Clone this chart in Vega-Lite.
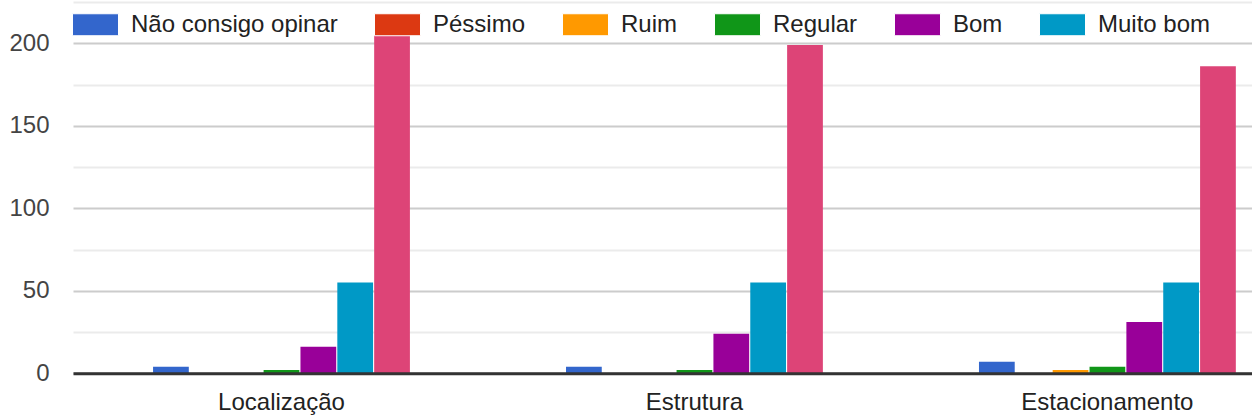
{
  "$schema": "https://vega.github.io/schema/vega-lite/v6.json",
  "width": 1179,
  "height": 371.25,
  "autosize": {"type": "none"},
  "padding": {"left": 73, "top": 2, "right": 0, "bottom": 45.75},
  "background": "white",
  "config": {"view": {"stroke": null}, "font": "Liberation Sans"},
  "data": {
    "values": [
      {"item": "Localização", "resposta": "Não consigo opinar", "n": 4},
      {"item": "Localização", "resposta": "Péssimo", "n": 0},
      {"item": "Localização", "resposta": "Ruim", "n": 0},
      {"item": "Localização", "resposta": "Regular", "n": 2},
      {"item": "Localização", "resposta": "Bom", "n": 16},
      {"item": "Localização", "resposta": "Muito bom", "n": 55},
      {"item": "Localização", "resposta": "Excelente", "n": 205},
      {"item": "Estrutura", "resposta": "Não consigo opinar", "n": 4},
      {"item": "Estrutura", "resposta": "Péssimo", "n": 0},
      {"item": "Estrutura", "resposta": "Ruim", "n": 0},
      {"item": "Estrutura", "resposta": "Regular", "n": 2},
      {"item": "Estrutura", "resposta": "Bom", "n": 24},
      {"item": "Estrutura", "resposta": "Muito bom", "n": 55},
      {"item": "Estrutura", "resposta": "Excelente", "n": 199},
      {"item": "Estacionamento", "resposta": "Não consigo opinar", "n": 7},
      {"item": "Estacionamento", "resposta": "Péssimo", "n": 0},
      {"item": "Estacionamento", "resposta": "Ruim", "n": 2},
      {"item": "Estacionamento", "resposta": "Regular", "n": 4},
      {"item": "Estacionamento", "resposta": "Bom", "n": 31},
      {"item": "Estacionamento", "resposta": "Muito bom", "n": 55},
      {"item": "Estacionamento", "resposta": "Excelente", "n": 186}
    ]
  },
  "mark": {"type": "bar"},
  "encoding": {
    "x": {
      "field": "item",
      "type": "nominal",
      "sort": ["Localização", "Estrutura", "Estacionamento"],
      "scale": {"paddingInner": 0.378, "paddingOuter": 0.1165, "align": 0.832, "round": false},
      "axis": {
        "title": null,
        "labelAngle": 0,
        "ticks": false,
        "grid": false,
        "domainColor": "#333333",
        "domainWidth": 3,
        "labelFontSize": 24,
        "labelColor": "#222222",
        "labelPadding": 17,
        "zindex": 1
      }
    },
    "xOffset": {
      "field": "resposta",
      "type": "nominal",
      "sort": ["Não consigo opinar", "Péssimo", "Ruim", "Regular", "Bom", "Muito bom", "Excelente"],
      "scale": {"paddingInner": 0.03, "paddingOuter": 0}
    },
    "y": {
      "field": "n",
      "type": "quantitative",
      "scale": {"domain": [0, 225], "nice": false},
      "axis": {
        "title": null,
        "values": [0, 25, 50, 75, 100, 125, 150, 175, 200, 225],
        "labelExpr": "datum.value % 50 === 0 ? datum.label : ''",
        "labelOverlap": false,
        "labelFlush": false,
        "domain": false,
        "ticks": false,
        "labelFontSize": 24,
        "labelColor": "#444444",
        "labelPadding": 24,
        "gridColor": {"condition": {"test": "datum.value % 50 === 0", "value": "#cccccc"}, "value": "#ebebeb"},
        "gridWidth": 2
      }
    },
    "color": {
      "field": "resposta",
      "type": "nominal",
      "scale": {
        "domain": ["Não consigo opinar", "Péssimo", "Ruim", "Regular", "Bom", "Muito bom", "Excelente"],
        "range": ["#3366cc", "#dc3912", "#ff9900", "#109618", "#990099", "#0099c6", "#dd4477"]
      },
      "legend": {
        "orient": "none",
        "legendX": -1,
        "legendY": -1,
        "direction": "horizontal",
        "columns": 6,
        "values": ["Não consigo opinar", "Péssimo", "Ruim", "Regular", "Bom", "Muito bom"],
        "title": null,
        "padding": 0,
        "symbolType": "M-1,-0.478H1V0.478H-1Z",
        "symbolSize": 2116,
        "symbolStrokeColor": "#ffffff",
        "symbolStrokeWidth": 1,
        "symbolOpacity": 1,
        "labelFontSize": 24,
        "labelColor": "#222222",
        "labelOffset": 12,
        "labelLimit": 400,
        "columnPadding": 34
      }
    }
  }
}
